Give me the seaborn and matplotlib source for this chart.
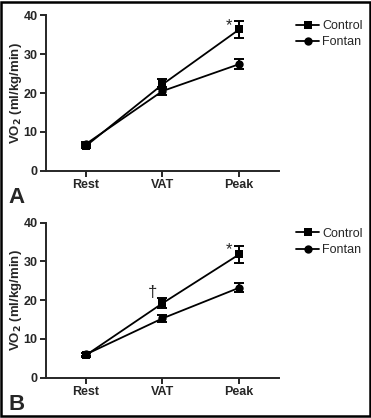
import numpy as np
import pandas as pd
import matplotlib
matplotlib.use('Agg')
import matplotlib.pyplot as plt
import seaborn as sns
from matplotlib.patches import Rectangle

sns.set_style('ticks')
plt.rcParams['font.family'] = ['Liberation Sans', 'DejaVu Sans']

# data
stages = ['Rest', 'VAT', 'Peak']
groups = ['Control', 'Fontan']

a_control = [6.4, 22.2, 36.3]
a_control_err = [0.6, 1.3, 2.2]
a_fontan = [6.9, 20.5, 27.4]
a_fontan_err = [0.5, 1.1, 1.2]

b_control = [5.8, 19.2, 31.8]
b_control_err = [0.5, 1.3, 2.1]
b_fontan = [6.0, 15.3, 23.2]
b_fontan_err = [0.4, 1.0, 1.1]

panels = [
    ('A', a_control, a_control_err, a_fontan, a_fontan_err,
     [('*', 2, 37.4)]),
    ('B', b_control, b_control_err, b_fontan, b_fontan_err,
     [('*', 2, 33.0), ('\u2020', 1, 22.0)]),
]

fig = plt.figure(figsize=(3.71, 4.18), dpi=100)
fig.patches.append(Rectangle((0.004, 0.004), 0.992, 0.992, transform=fig.transFigure,
                             fill=False, edgecolor='black', linewidth=1.8))

positions = [[0.124, 0.591, 0.628, 0.373], [0.124, 0.0964, 0.628, 0.371]]
markers = {'Control': 's', 'Fontan': 'o'}

for pos, (letter, c, ce, f, fe, notes) in zip(positions, panels):
    ax = fig.add_axes(pos)
    df = pd.DataFrame({
        'stage': stages * 2,
        'group': ['Control'] * 3 + ['Fontan'] * 3,
        'vo2': c + f,
        'err': ce + fe,
    })
    sns.lineplot(data=df, x='stage', y='vo2', hue='group', style='group',
                 markers=markers, dashes=False, palette=['black', 'black'],
                 markersize=6, linewidth=1.3, markeredgewidth=0, ax=ax,
                 legend=True)
    x = np.arange(len(stages))
    for g in groups:
        sub = df[df['group'] == g]
        ax.errorbar(x, sub['vo2'], yerr=sub['err'], fmt='none', ecolor='black',
                    elinewidth=1.4, capsize=3.8, capthick=1.4)
    for txt, xi, yi in notes:
        ax.text(xi - 0.13, yi, txt, ha='center', va='center', fontsize=12)

    ax.set_xlim(-0.52, 2.52)
    ax.set_ylim(0, 40)
    ax.set_yticks([0, 10, 20, 30, 40])
    ax.set_xlabel('')
    ax.set_ylabel('VO$_\\mathbf{2}$ (ml/kg/min)', fontsize=9.5, fontweight='bold', labelpad=0)
    sns.despine(ax=ax)
    for s in ['left', 'bottom']:
        ax.spines[s].set_linewidth(1.4)
    ax.tick_params(width=1.4, length=4, labelsize=9, pad=2)
    for lab in ax.get_xticklabels() + ax.get_yticklabels():
        lab.set_fontweight('bold')

    handles, labels = ax.get_legend_handles_labels()
    ax.get_legend().remove()
    ax.legend(handles, labels, loc='upper left', bbox_to_anchor=(1.05, 1.0),
              frameon=False, fontsize=9, handlelength=1.9, handletextpad=0.2,
              labelspacing=0.35, borderaxespad=0)

    ax.text(-0.16, -0.17, letter, transform=ax.transAxes, fontsize=16,
            fontweight='bold', ha='left', va='center')

fig.savefig('out.png', dpi=100)
